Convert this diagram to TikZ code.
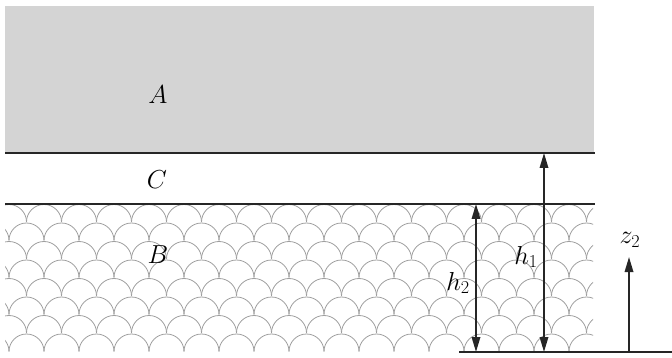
\documentclass[tikz,border=0pt]{standalone}
\usepackage{fix-cm}
\usetikzlibrary{arrows.meta}
\begin{document}
\begin{tikzpicture}[x=1pt,y=-1pt,
  heavy/.style={line width=2.2pt, black!85},
  dimarrow/.style={line width=1.7pt, black!85, {Triangle[length=15pt,width=8.5pt]}-{Triangle[length=15pt,width=8.5pt]}},
  uparrow/.style={line width=1.7pt, black!85, -{Triangle[length=15pt,width=8.5pt]}},
  scalearc/.style={line width=0.8pt, black!38},
  lbl/.style={font=\fontsize{26}{31}\selectfont, inner sep=0pt}]
\useasboundingbox (0,0) rectangle (672,358);
% layer A
\fill[black!17] (5,6) rectangle (594,153);
% scales pattern of layer B
\begin{scope}
\clip (5,204) rectangle (593,353);
\foreach \k in {0,...,7} {
  \pgfmathsetmacro{\cy}{222+18.5*\k}
  \pgfmathsetmacro{\off}{mod(\k,2)*17.5}
  \foreach \n in {-1,...,17} {
    \pgfmathsetmacro{\cx}{9+\off+35*\n}
    \draw[scalearc] ({\cx+17.5},\cy) arc[start angle=0,end angle=180,radius=17.5pt];
  }
}
\end{scope}
% coordinates
\coordinate (acL) at (5,153);
\coordinate (acR) at (595,153);
\coordinate (cbL) at (5,204);
\coordinate (cbR) at (595,204);
\coordinate (botL) at (459,352);
\coordinate (botR) at (672,352);
\coordinate (h2top) at (476,204);
\coordinate (h2bot) at (476,352);
\coordinate (h1top) at (544,153);
\coordinate (h1bot) at (544,352);
\coordinate (z2bot) at (629,352);
\coordinate (z2top) at (629,257);
% lines
\draw[heavy] (acL) -- (acR);
\draw[heavy] (cbL) -- (cbR);
\draw[heavy] (botL) -- (botR);
% arrows
\draw[dimarrow] (h2top) -- (h2bot);
\draw[dimarrow] (h1top) -- (h1bot);
\draw[uparrow] (z2bot) -- (z2top);
% labels
\node[lbl] (A) at (158,95) {$A$};
\node[lbl] (C) at (157,180) {$C$};
\node[lbl] (B) at (158,255) {$B$};
\node[lbl] (h2) at (458,283) {$h_2$};
\node[lbl] (h1) at (526,257) {$h_1$};
\node[lbl] (z2) at (630,240) {$z_2$};
\end{tikzpicture}
\end{document}
